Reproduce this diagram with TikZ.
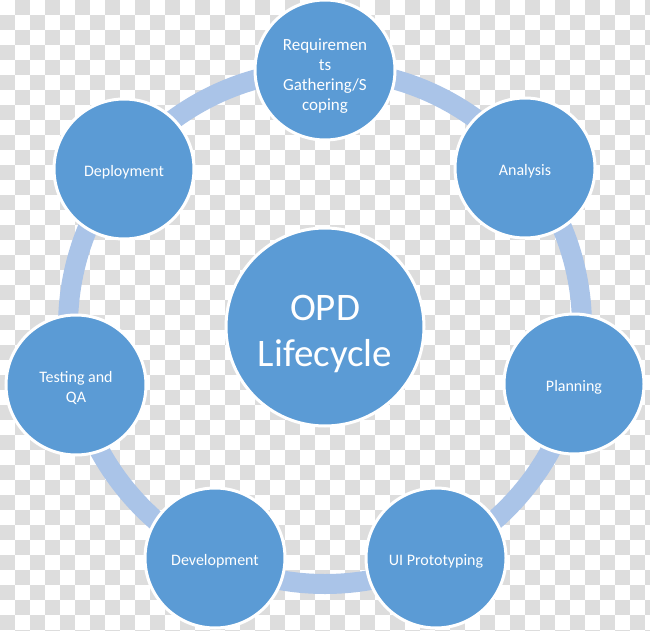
\documentclass[tikz,border=0pt]{standalone}
\usepackage{fontspec}
\setmainfont{Carlito}
\definecolor{circ}{RGB}{91,155,213}
\definecolor{ringc}{RGB}{170,196,232}
\definecolor{chk}{RGB}{221,221,221}
\begin{document}
\begin{tikzpicture}[x=1pt,y=-1pt,
  stage/.style={circle, fill=circ, draw=white, line width=3pt, minimum size=140pt, inner sep=0pt},
  lbl/.style={text=white, font=\fontsize{16}{20}\selectfont, align=center, yshift=-3pt, inner sep=0pt},
  biglbl/.style={lbl, font=\fontsize{17}{20}\selectfont, yshift=-3pt},
  hub/.style={stage, minimum size=198pt},
  hublbl/.style={lbl, font=\fontsize{39}{46}\selectfont, yshift=-4pt},
  ringline/.style={draw=ringc, line width=20pt}]
\useasboundingbox (0,0) rectangle (650,631);
\fill[white] (0,0) rectangle (650,631);
\begin{scope}
\clip (0,0) rectangle (650,631);
\foreach \i in {0,...,43}{
  \foreach \j in {0,...,42}{
    \pgfmathtruncatemacro{\cpar}{mod(\i+\j,2)}
    \ifnum\cpar=1 \fill[chk] (\i*15,\j*15) rectangle ++(15,15); \fi
  }
}
\end{scope}
\coordinate (ctr) at (325,327);
\draw[ringline] (ctr) circle[radius=257pt];
\node[hub, label={[hublbl]center:OPD\\Lifecycle}] (hubn) at (ctr) {};
\node[stage, label={[biglbl]center:Requiremen\\ts\\Gathering/S\\coping}] (req) at (325,70) {};
\node[stage, label={[lbl]center:Analysis}] (ana) at (525,168) {};
\node[stage, label={[lbl]center:Planning}] (pla) at (574,384) {};
\node[stage, label={[lbl]center:UI Prototyping}] (uip) at (436,558) {};
\node[stage, label={[lbl]center:Development}] (dev) at (215,558) {};
\node[stage, label={[lbl]center:Testing and\\QA}] (tqa) at (76,385) {};
\node[stage, label={[lbl]center:Deployment}] (dep) at (124,169) {};
\end{tikzpicture}
\end{document}
